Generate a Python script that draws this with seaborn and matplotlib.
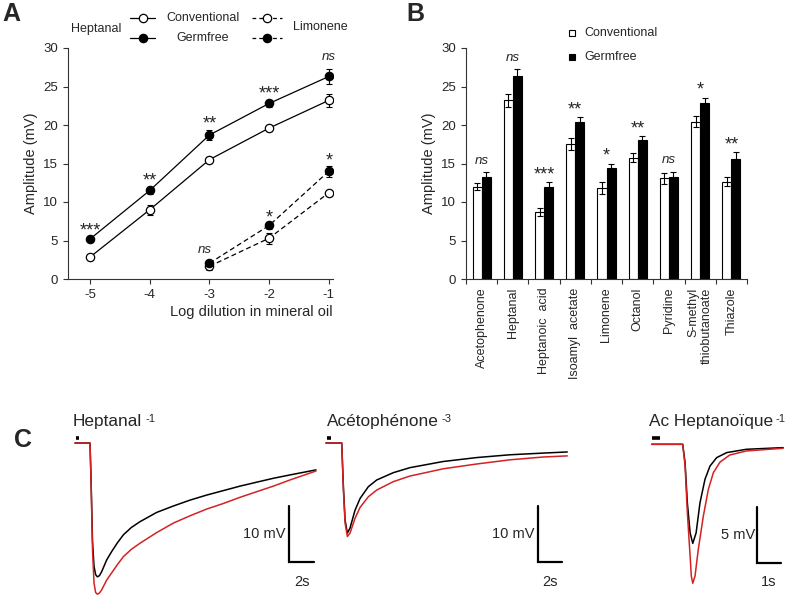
import numpy as np
import pandas as pd
import matplotlib
matplotlib.use("Agg")
import matplotlib.pyplot as plt
import seaborn as sns

# -------------------------
# Panel A: dose-response (mean +/- SEM)
# -------------------------
dilutions = [-5, -4, -3, -2, -1]
hep_conv = [2.85, 9.0, 15.5, 19.6, 23.2]
hep_conv_err = [0.3, 0.65, 0.4, 0.4, 0.8]
hep_germ = [5.2, 11.5, 18.7, 22.8, 26.3]
hep_germ_err = [0.3, 0.4, 0.7, 0.5, 1.0]
hep_sig = ["***", "**", "**", "***", "ns"]

lim_dil = [-3, -2, -1]
lim_conv = [1.65, 5.3, 11.2]
lim_conv_err = [0.5, 0.7, 0.4]
lim_germ = [2.05, 6.95, 14.0]
lim_germ_err = [0.3, 0.4, 0.7]
lim_sig = ["ns", "*", "*"]

# -------------------------
# Panel B: odorant panel
# -------------------------
odorants = ["Acetophenone", "Heptanal", "Heptanoic  acid", "Isoamyl  acetate",
            "Limonene", "Octanol", "Pyridine", "S-methyl\nthiobutanoate", "Thiazole"]
odor_conv = [12.0, 23.2, 8.7, 17.5, 11.8, 15.75, 13.1, 20.45, 12.65]
odor_conv_err = [0.5, 0.8, 0.55, 0.75, 0.8, 0.55, 0.7, 0.7, 0.55]
odor_germ = [13.2, 26.3, 11.9, 20.4, 14.4, 18.0, 13.2, 22.9, 15.6]
odor_germ_err = [0.65, 0.95, 0.7, 0.65, 0.6, 0.6, 0.75, 0.65, 0.85]
odor_sig = ["ns", "ns", "***", "**", "*", "**", "ns", "*", "**"]

# -------------------------
# Panel C: example EOG traces (time in s, voltage in mV)
# -------------------------
hep_t = [-1.2, 0, 0.08, 0.2, 0.32, 0.45, 0.59, 0.75, 0.93, 1.33, 1.73, 2.2, 2.67,
         3.3, 4.0, 5.33, 6.67, 8.0, 9.33, 10.67, 12.0, 13.33, 14.67, 16.0, 18.08]
hep_conv_trace = [0, 0, -6.0, -17.5, -22.0, -23.5, -23.9, -23.7, -23.0, -20.9, -19.4,
                  -17.8, -16.4, -15.1, -14.05, -12.4, -11.25, -10.2, -9.3, -8.5, -7.7,
                  -7.0, -6.3, -5.7, -4.8]
hep_germ_trace = [0, 0, -6.5, -19.0, -25.0, -26.7, -27.0, -26.8, -26.25, -24.5, -23.2,
                  -21.7, -20.3, -19.0, -17.9, -16.0, -14.3, -13.0, -11.8, -10.8, -9.7,
                  -8.7, -7.7, -6.6, -5.0]

aceto_t = [-1.31, 0, 0.14, 0.28, 0.47, 0.69, 1.11, 1.53, 2.22, 2.92, 4.3, 5.69,
           8.47, 11.25, 14.03, 16.8, 18.8]
aceto_conv_trace = [0, 0, -7.8, -13.75, -16.1, -15.2, -12.0, -9.9, -7.8, -6.6, -5.3,
                    -4.4, -3.3, -2.6, -2.1, -1.8, -1.6]
aceto_germ_trace = [0, 0, -8.4, -14.3, -16.7, -16.1, -13.45, -11.5, -9.6, -8.4, -6.9,
                    -5.9, -4.6, -3.75, -3.0, -2.5, -2.3]

hacid_t_conv = [-1.25, 0.04, 0.14, 0.235, 0.35, 0.46, 0.6, 0.76, 0.97, 1.18, 1.46,
                1.875, 2.7, 4.23]
hacid_conv_trace = [0, 0, -1.66, -5.3, -8.0, -8.95, -8.0, -5.3, -3.16, -1.96, -1.2,
                    -0.75, -0.45, -0.3]
hacid_t_germ = [-1.25, 0.04, 0.14, 0.235, 0.35, 0.4, 0.46, 0.555, 0.69, 0.9, 1.11,
                1.32, 1.6, 2.0, 2.7, 4.23]
hacid_germ_trace = [0, 0, -1.96, -6.2, -10.1, -11.9, -12.55, -11.9, -9.5, -6.5, -4.07,
                    -2.56, -1.6, -0.97, -0.6, -0.36]

# -------------------------
# Style
# -------------------------
sns.set_style("ticks")
plt.rcParams["font.family"] = ["Liberation Sans", "DejaVu Sans"]
plt.rcParams["axes.linewidth"] = 0.8
plt.rcParams["axes.edgecolor"] = "#333333"
plt.rcParams["axes.unicode_minus"] = False
RED = "#d42222"

W, H = 787, 598
fig = plt.figure(figsize=(W / 100, H / 100), dpi=100)


def px_axes(x0, y0, x1, y1):
    return fig.add_axes([x0 / W, 1 - y1 / H, (x1 - x0) / W, (y1 - y0) / H])


def sig_text(ax, x, top, s, star_off, ns_off):
    if s == "ns":
        ax.text(x, top + ns_off, s, ha="center", va="baseline", fontsize=9.5,
                style="italic")
    else:
        ax.text(x, top + star_off, s, ha="center", va="baseline", fontsize=13)


# overlay in pixel units for panel letters / legends / titles
ov = px_axes(0, 0, W, H)
ov.set_xlim(0, W)
ov.set_ylim(H, 0)
ov.axis("off")
ov.set_zorder(10)
ov.patch.set_visible(False)

# -------------------------
# Panel A
# -------------------------
axA = px_axes(68, 48, 333, 279)
series = [
    (dilutions, hep_conv, hep_conv_err, "white", "-"),
    (dilutions, hep_germ, hep_germ_err, "black", "-"),
    (lim_dil, lim_conv, lim_conv_err, "white", (0, (4, 2.5))),
    (lim_dil, lim_germ, lim_germ_err, "black", (0, (4, 2.5))),
]
for xs, ys, es, face, ls in series:
    axA.errorbar(xs, ys, yerr=es, fmt="none", ecolor="k", elinewidth=0.8,
                 capsize=2.5, capthick=0.8, zorder=2)
    sns.lineplot(x=xs, y=ys, ax=axA, color="k", lw=0.9, linestyle=ls, marker="o",
                 markersize=6, markerfacecolor=face, markeredgecolor="k",
                 markeredgewidth=0.9, zorder=3)

for x, y, e, s in zip(dilutions, hep_germ, hep_germ_err, hep_sig):
    sig_text(axA, x, y + e, s, 0.2, 1.1)
for x, y, e, s in zip(lim_dil, lim_germ, lim_germ_err, lim_sig):
    sig_text(axA, x - (0.08 if s == "ns" else 0), y + e, s, 0.0, 1.0)

axA.set_xlim(-5.37, -0.93)
axA.set_ylim(0, 30)
axA.set_xticks(dilutions)
axA.set_yticks(range(0, 31, 5))
axA.tick_params(labelsize=9.5, length=3.5, width=0.8, color="#333333")
axA.set_xlabel("Log dilution in mineral oil", fontsize=10.5, loc="right", labelpad=3)
axA.set_ylabel("Amplitude (mV)", fontsize=10.5, labelpad=4)
sns.despine(ax=axA)

# legend A
for yy, face in [(18, "white"), (38, "black")]:
    ov.plot([130, 155], [yy, yy], color="k", lw=0.9)
    ov.plot([142.5], [yy], marker="o", ms=6, mfc=face, mec="k", mew=0.9)
    ov.plot([252, 282], [yy, yy], color="k", lw=0.9, linestyle=(0, (3, 2.5)))
    ov.plot([267], [yy], marker="o", ms=6, mfc=face, mec="k", mew=0.9)
ov.text(71, 29, "Heptanal", fontsize=9, va="center", ha="left")
ov.text(203, 18, "Conventional", fontsize=9, va="center", ha="center")
ov.text(203, 38, "Germfree", fontsize=9, va="center", ha="center")
ov.text(293, 27, "Limonene", fontsize=9, va="center", ha="left")

# -------------------------
# Panel B
# -------------------------
axB = px_axes(466, 48, 747, 279)
dfB = pd.DataFrame({
    "odorant": odorants * 2,
    "amp": odor_conv + odor_germ,
    "group": ["Conventional"] * len(odorants) + ["Germfree"] * len(odorants),
})
bar_w = 0.58
sns.barplot(data=dfB, x="odorant", y="amp", hue="group",
            palette={"Conventional": "white", "Germfree": "black"},
            edgecolor="black", linewidth=0.8, width=bar_w, errorbar=None,
            legend=False, ax=axB)
pos = np.arange(len(odorants))
axB.errorbar(pos - bar_w / 4, odor_conv, yerr=odor_conv_err, fmt="none", ecolor="k",
             elinewidth=0.8, capsize=2, capthick=0.8, zorder=3)
axB.errorbar(pos + bar_w / 4, odor_germ, yerr=odor_germ_err, fmt="none", ecolor="k",
             elinewidth=0.8, capsize=2, capthick=0.8, zorder=3)
for x, y, e, s in zip(pos, odor_germ, odor_germ_err, odor_sig):
    sig_text(axB, x, y + e, s, 0.35, 1.1)

axB.set_xlim(-0.5, len(odorants) - 0.5)
axB.set_ylim(0, 30)
axB.set_yticks(range(0, 31, 5))
axB.set_xticks(np.arange(-0.5, len(odorants), 1))
axB.set_xticklabels([])
axB.set_xticks(pos, minor=True)
axB.set_xticklabels(odorants, minor=True, rotation=90, fontsize=9,
                    multialignment="right")
axB.tick_params(axis="x", which="minor", length=0, pad=6)
axB.tick_params(which="major", labelsize=9.5, length=3.5, width=0.8, color="#333333")
axB.set_xlabel("")
axB.set_ylabel("Amplitude (mV)", fontsize=10.5, labelpad=4)
sns.despine(ax=axB)

# legend B
ov.plot([572], [33], marker="s", ms=5, mfc="white", mec="k", mew=0.8)
ov.plot([572], [57], marker="s", ms=5, mfc="black", mec="k", mew=0.8)
ov.text(584, 33, "Conventional", fontsize=9, va="center", ha="left")
ov.text(584, 57, "Germfree", fontsize=9, va="center", ha="left")

# -------------------------
# Panel C: traces
# -------------------------
traces = [
    # pixel box, xlim, ylim, (t, conv), (t, germ), title, sup, title x,
    # stim marker, scale bar (x, y, dV, dt), scale labels
    ((60, 400, 330, 598), (-2.4, 19.2), (-27.68, 7.68), (hep_t, hep_conv_trace),
     (hep_t, hep_germ_trace), "Heptanal", "-1", 73, (-1.12, -0.88, 0.98),
     (15.92, -21.25, 10, 2), ("10 mV", "2s")),
    ((320, 400, 580, 598), (-1.81, 19.86), (-27.68, 7.68), (aceto_t, aceto_conv_trace),
     (aceto_t, aceto_germ_trace), "Acétophénone", "-3", 327, (-1.23, -0.89, 0.98),
     (16.36, -21.25, 10, 2), ("10 mV", "2s")),
    ((640, 400, 787, 598), (-1.74, 4.39), (-13.88, 4.0), (hacid_t_conv, hacid_conv_trace),
     (hacid_t_germ, hacid_germ_trace), "Ac Heptanoïque", "-1", 649, (-1.26, -0.9, 0.57),
     (3.125, -10.69, 5, 1), ("5 mV", "1s")),
]
for box, xl, yl, conv, germ, title, sup, tx, stim, bar, labs in traces:
    ax = px_axes(*box)
    sns.lineplot(x=conv[0], y=conv[1], sort=False, color="k", lw=1.1, ax=ax)
    sns.lineplot(x=germ[0], y=germ[1], sort=False, color=RED, lw=1.1, ax=ax)
    ax.plot([stim[0], stim[1]], [stim[2], stim[2]], color="k", lw=2.6,
            solid_capstyle="butt")
    bx, by, dv, dt = bar
    ax.plot([bx, bx, bx + dt], [by + dv, by, by], color="k", lw=1.6,
            solid_joinstyle="miter")
    ax.text(bx - (xl[1] - xl[0]) * 0.012, by + dv / 2, labs[0], ha="right",
            va="center", fontsize=10.5)
    ax.text(bx + dt / 2, by - (yl[1] - yl[0]) * 0.1, labs[1], ha="center",
            va="center", fontsize=10.5)
    ax.set_xlim(*xl)
    ax.set_ylim(*yl)
    ax.axis("off")
    tt = ov.text(tx, 426, title, fontsize=12.4, ha="left", va="baseline")
    ov.annotate(sup, xy=(1, 1), xycoords=tt, xytext=(2, 0),
                textcoords="offset points", ha="left", va="top", fontsize=8)

# panel letters
ov.text(2, 14, "A", fontsize=18, fontweight="bold", va="center", ha="left")
ov.text(406, 14, "B", fontsize=18, fontweight="bold", va="center", ha="left")
ov.text(14, 440, "C", fontsize=18, fontweight="bold", va="center", ha="left")

fig.savefig("out.png", dpi=100)
